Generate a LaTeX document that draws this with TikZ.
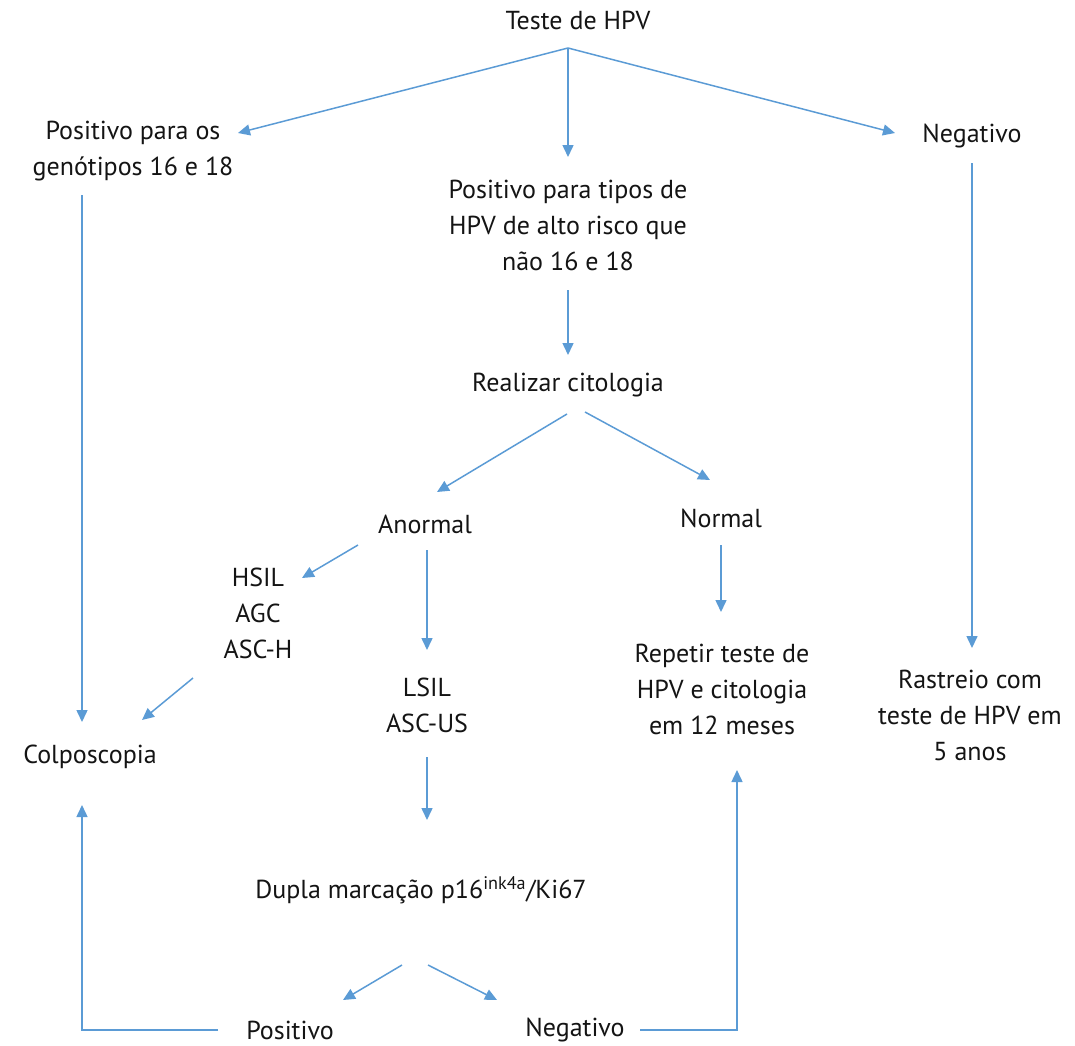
\documentclass[tikz,border=0pt]{standalone}
\usepackage{fontspec}
\setmainfont{PT Sans}
\usetikzlibrary{calc,arrows.meta}
\definecolor{arrowblue}{HTML}{5B9BD5}
\definecolor{txtgray}{HTML}{141414}
\tikzset{
  lbl/.style={inner sep=0pt, align=center, text=txtgray, font=\fontsize{26}{36}\selectfont},
  arr/.style={draw=arrowblue, line width=1.5pt, -{Triangle[length=12pt,width=11pt]}},
  ln/.style={draw=arrowblue, line width=1.5pt}
}
\begin{document}
\begin{tikzpicture}[x=1pt,y=-1pt]
\useasboundingbox (0,0) rectangle (1075,1045);
\node[lbl] (teste) at (578,20) {Teste de HPV};
\node[lbl] (pos1618) at (133,151) {Positivo para os\\genótipos 16 e 18};
\node[lbl] (neg1) at (972,136) {Negativo};
\node[lbl] (posalto) at (568,225) {Positivo para tipos de\\HPV de alto risco que\\não 16 e 18};
\node[lbl] (cito) at (568,385) {Realizar citologia};
\node[lbl] (anormal) at (425,524) {Anormal};
\node[lbl] (normal) at (721,518) {Normal};
\node[lbl] (hsil) at (258,613) {HSIL\\AGC\\ASC-H};
\node[lbl] (lsil) at (427,705) {LSIL\\ASC-US};
\node[lbl] (colpo) at (90,757) {Colposcopia};
\node[lbl] (repetir) at (722,689) {Repetir teste de\\HPV e citologia\\em 12 meses};
\node[lbl] (rastreio) at (970,715) {Rastreio com\\teste de HPV em\\5 anos};
\node[lbl] (dupla) at (421,890) {Dupla marcação p16\textsuperscript{ink4a}/Ki67};
\node[lbl] (pos2) at (290,1030) {Positivo};
\node[lbl] (neg2) at (575,1030) {Negativo};

\draw[arr] ($(teste)+(-10,28)$) -- ($(pos1618)+(105,-18)$);
\draw[arr] ($(teste)+(-10,28)$) -- ($(posalto)+(0,-68)$);
\draw[arr] ($(teste)+(-10,28)$) -- ($(neg1)+(-77,-3)$);
\draw[arr] ($(pos1618)+(-51,44)$) -- ($(colpo)+(-8,-35)$);
\draw[arr] ($(neg1)+(0,27)$) -- ($(rastreio)+(2,-67)$);
\draw[arr] ($(posalto)+(0,65)$) -- ($(cito)+(0,-30)$);
\draw[arr] ($(cito)+(-1,29)$) -- ($(anormal)+(12,-32)$);
\draw[arr] ($(cito)+(17,27)$) -- ($(normal)+(-11,-38)$);
\draw[arr] ($(anormal)+(-67,21)$) -- ($(hsil)+(44,-35)$);
\draw[arr] ($(anormal)+(2,26)$) -- ($(lsil)+(0,-55)$);
\draw[arr] ($(hsil)+(-65,65)$) -- ($(colpo)+(52,-37)$);
\draw[arr] ($(normal)+(0,27)$) -- ($(repetir)+(-1,-77)$);
\draw[arr] ($(lsil)+(0,52)$) -- ($(dupla)+(6,-70)$);
\draw[arr] ($(dupla)+(-19,75)$) -- ($(pos2)+(53,-30)$);
\draw[arr] ($(dupla)+(7,75)$) -- ($(neg2)+(-78,-30)$);
\draw[arr] ($(pos2)+(-72,0)$) -| ($(colpo)+(-8,48)$);
\draw[arr] ($(neg2)+(65,0)$) -| ($(repetir)+(15,81)$);
\end{tikzpicture}
\end{document}
